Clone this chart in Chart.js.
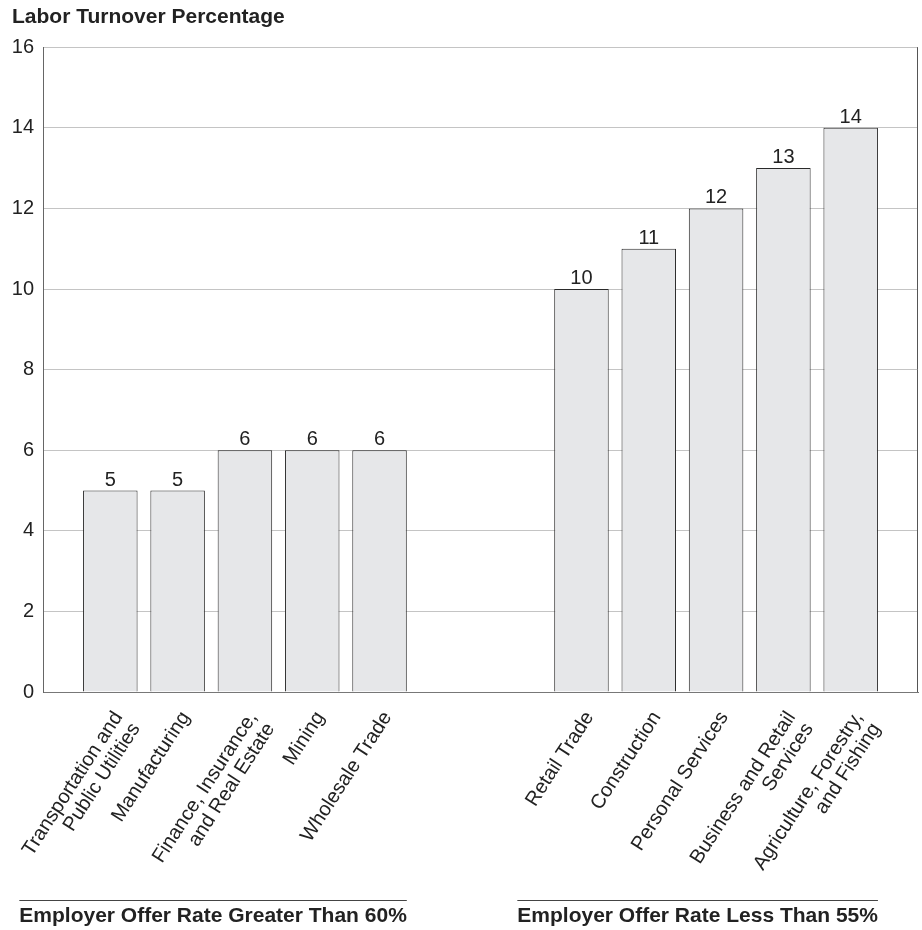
<!DOCTYPE html>
<html>
<head>
<meta charset="utf-8">
<script src="https://cdn.jsdelivr.net/npm/chart.js@4"></script>
<style>
  html, body { margin: 0; padding: 0; background: #fff; }
  #wrap { width: 922px; height: 930px; }
</style>
</head>
<body>
<div id="wrap"><canvas id="c" width="922" height="930"></canvas></div>
<script>
// Industries grouped by employer offer rate
const highOfferIndustries = [
  ['Transportation and', 'Public Utilities'],
  'Manufacturing',
  ['Finance, Insurance,', 'and Real Estate'],
  'Mining',
  'Wholesale Trade'
];
const highOfferTurnover = [5, 5, 6, 6, 6];

const lowOfferIndustries = [
  'Retail Trade',
  'Construction',
  'Personal Services',
  ['Business and Retail', 'Services'],
  ['Agriculture, Forestry,', 'and Fishing']
];
const lowOfferTurnover = [10, 11, 12, 13, 14];

const groupTitles = ['Employer Offer Rate Greater Than 60%', 'Employer Offer Rate Less Than 55%'];
const yTicks = [0, 2, 4, 6, 8, 10, 12, 14, 16];
const yTitle = 'Labor Turnover Percentage';

// Category axis: blank slot at each end and two blank slots between groups
const labels = [''].concat(highOfferIndustries, ['', ''], lowOfferIndustries, ['']);
const values = [null].concat(highOfferTurnover, [null, null], lowOfferTurnover, [null]);
const groupStart = [1, 1 + highOfferIndustries.length + 2];
const groupSizes = [highOfferIndustries.length, lowOfferIndustries.length];

const FONT = '"Liberation Sans", Arial, sans-serif';

// Value labels on top of bars
const valueLabels = {
  id: 'valueLabels',
  afterDatasetsDraw(chart) {
    const ctx = chart.ctx;
    const meta = chart.getDatasetMeta(0);
    ctx.save();
    ctx.font = '20px ' + FONT;
    ctx.fillStyle = '#222';
    ctx.textAlign = 'center';
    ctx.textBaseline = 'alphabetic';
    meta.data.forEach((bar, i) => {
      const v = values[i];
      if (v === null || v === undefined) return;
      ctx.fillText(String(v), bar.x, bar.y - 5);
    });
    ctx.restore();
  }
};

// Right edge of the plot frame and the group captions below the axis
const frameAndGroups = {
  id: 'frameAndGroups',
  afterDraw(chart) {
    const ctx = chart.ctx;
    const a = chart.chartArea;
    ctx.save();
    ctx.strokeStyle = '#555';
    ctx.lineWidth = 1;
    ctx.beginPath();
    ctx.moveTo(Math.round(a.right) - 0.5, a.top);
    ctx.lineTo(Math.round(a.right) - 0.5, a.bottom);
    ctx.stroke();

    const meta = chart.getDatasetMeta(0);
    ctx.font = 'bold 21px ' + FONT;
    ctx.fillStyle = '#222';
    ctx.textBaseline = 'alphabetic';
    ctx.textAlign = 'left';
    groupTitles.forEach((title, g) => {
      const last = meta.data[groupStart[g] + groupSizes[g] - 1];
      const right = last.x + last.width / 2;
      const w = ctx.measureText(title).width;
      const left = right - w;
      ctx.strokeStyle = '#444';
      ctx.beginPath();
      ctx.moveTo(left, 900.5);
      ctx.lineTo(right, 900.5);
      ctx.stroke();
      ctx.fillText(title, left, 922);
    });
    ctx.restore();
  }
};

new Chart(document.getElementById('c'), {
  type: 'bar',
  data: {
    labels: labels,
    datasets: [{
      data: values,
      backgroundColor: '#e6e7e9',
      borderColor: '#2a2a2a',
      borderWidth: 1,
      borderSkipped: 'bottom',
      barPercentage: 0.9,
      categoryPercentage: 0.9
    }]
  },
  options: {
    responsive: false,
    animation: false,
    devicePixelRatio: 1,
    layout: { padding: { left: 12, right: 4, top: 5, bottom: 0 } },
    plugins: {
      legend: { display: false },
      tooltip: { enabled: false },
      title: {
        display: true,
        text: yTitle,
        align: 'start',
        color: '#222',
        font: { family: FONT, size: 21, weight: 'bold' },
        padding: { top: 0, bottom: 17 }
      }
    },
    scales: {
      x: {
        type: 'category',
        offset: false,
        afterFit(axis) { axis.height = 238; axis.paddingLeft = 0; axis.paddingRight = 0; },
        grid: { display: false, drawTicks: false },
        border: { display: true, color: '#777', width: 1 },
        ticks: {
          autoSkip: false,
          maxRotation: 57,
          minRotation: 57,
          padding: 16,
          labelOffset: 8,
          color: '#222',
          font: { family: FONT, size: 20, lineHeight: 1.05 }
        }
      },
      y: {
        min: 0,
        max: 16,
        afterBuildTicks(axis) { axis.ticks = yTicks.map(v => ({ value: v })); },
        afterFit(axis) { axis.width = 31; },
        grid: { color: '#c4c4c4', lineWidth: 1, drawTicks: false },
        border: { display: true, color: '#666', width: 1 },
        ticks: {
          padding: 9,
          color: '#222',
          font: { family: FONT, size: 20 }
        }
      }
    }
  },
  plugins: [valueLabels, frameAndGroups]
});
</script>
</body>
</html>
